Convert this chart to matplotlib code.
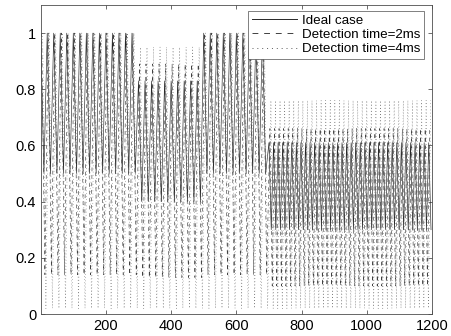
import matplotlib

matplotlib.use("Agg")
import matplotlib.pyplot as plt
import numpy as np

plt.rcParams.update({"font.family": ["Liberation Sans", "DejaVu Sans"], "font.size": 10.5})

# piecewise operating regions (x in samples) and oscillation period per region
seg_edges = [0, 300, 500, 700, 1200]
seg_period = [20, 20, 20, 14]

# upper / lower turning levels per region
ideal_hi = [1.00, 0.83, 1.00, 0.61]
ideal_lo = [0.50, 0.40, 0.50, 0.30]
det2_hi = [1.00, 0.89, 1.00, 0.66]
det2_lo = [0.14, 0.13, 0.14, 0.10]
det4_hi = [1.00, 0.95, 1.00, 0.76]
det4_lo = [0.02, 0.02, 0.02, 0.02]

series = [
    ("Ideal case", ideal_hi, ideal_lo, 0, "-", "0.15"),
    ("Detection time=2ms", det2_hi, det2_lo, 3, (0, (6, 6)), "0.25"),
    ("Detection time=4ms", det4_hi, det4_lo, 6, (0, (1, 4)), "0.35"),
]


def turning_points(hi, lo, shift):
    xs, ys = [], []
    for a, b, p, h, l in zip(seg_edges[:-1], seg_edges[1:], seg_period, hi, lo):
        t = np.arange(a + shift, b, p / 2)
        xs.extend(t)
        ys.extend(h if i % 2 == 0 else l for i in range(len(t)))
    return np.array(xs), np.array(ys)


fig = plt.figure(figsize=(4.52, 3.36), dpi=100)
ax = fig.add_axes([41 / 452, 22 / 336, 391 / 452, 309 / 336])

for name, hi, lo, shift, ls, col in series:
    x, y = turning_points(hi, lo, shift)
    ax.plot(x, y, color=col, lw=0.45, linestyle=ls, label=name)

ax.set_xlim(1, 1200)
ax.set_ylim(0, 1.1)
ax.set_xticks([200, 400, 600, 800, 1000, 1200])
ax.set_yticks([0, 0.2, 0.4, 0.6, 0.8, 1])
ax.set_yticklabels(["0", "0.2", "0.4", "0.6", "0.8", "1"])
ax.tick_params(direction="in", top=True, right=True, length=3, width=0.5,
               colors="0.2", labelcolor="black")
for s in ax.spines.values():
    s.set_linewidth(0.6)
    s.set_color("0.3")

leg = ax.legend(loc="upper right", bbox_to_anchor=(383 / 391, 303 / 309), frameon=True,
                fancybox=False, handlelength=3.4, handletextpad=0.4,
                borderpad=0.25, labelspacing=0.15, fontsize=9.6, borderaxespad=0)
leg.get_frame().set_edgecolor("0.3")
leg.get_frame().set_linewidth(0.5)
leg.get_frame().set_alpha(1)
for line in leg.get_lines():
    line.set_linewidth(0.7)

fig.savefig("out.png", dpi=100)
